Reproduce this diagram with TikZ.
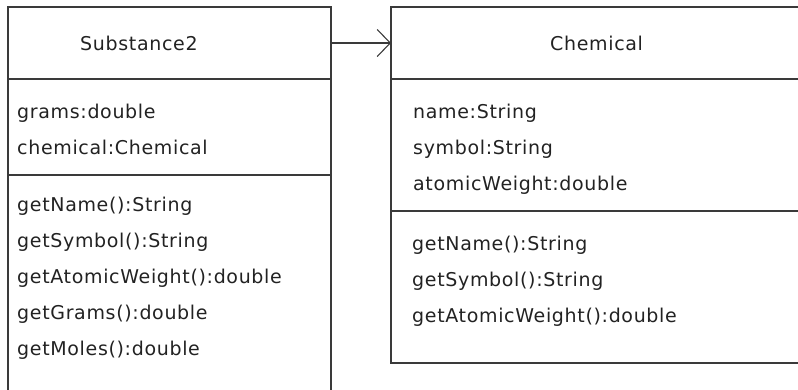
\documentclass[tikz,border=0pt]{standalone}
\usepackage{fontspec}
\setmainfont{DejaVu Sans}[LetterSpace=3.5]
\usepackage{tikz}
\usetikzlibrary{positioning,arrows.meta}
\definecolor{LineGray}{HTML}{3A3A3A}
\definecolor{TextGray}{HTML}{222222}

\begin{document}
\begin{tikzpicture}[
  x=1pt,y=-1pt,
  part/.style={draw=LineGray,line width=1.3pt,inner sep=0pt,outer sep=0pt},
  lbl/.style={anchor=base west,inner sep=0pt,text=TextGray,font=\fontsize{19}{23}\selectfont},
  arr/.style={-{Straight Barb[length=13pt,width=27pt]},line width=1.1pt,draw=LineGray}
]
\useasboundingbox (0,0) rectangle (798,389);
\clip (0,0) rectangle (798,389);
% class Substance2
\node[part,minimum width=323pt,minimum height=72pt] (subHead) at (169.5,43) {};
\node[part,minimum width=323pt,minimum height=96pt,below=0pt of subHead] (subAttr) {};
\node[part,minimum width=323pt,minimum height=225pt,below=0pt of subAttr] (subOps) {};
% class Chemical
\node[part,minimum width=410pt,minimum height=72pt,right=60pt of subHead] (chemHead) {};
\node[part,minimum width=410pt,minimum height=132pt,below=0pt of chemHead] (chemAttr) {};
\node[part,minimum width=410pt,minimum height=152pt,below=0pt of chemAttr] (chemOps) {};
% texts
\node[lbl] (subName) at (80,50) {Substance2};
\node[lbl] (subA1) at (17,118) {grams:double};
\node[lbl] (subA2) at (17,154) {chemical:Chemical};
\node[lbl] (subM1) at (17,211) {getName():String};
\node[lbl] (subM2) at (17,247) {getSymbol():String};
\node[lbl] (subM3) at (17,283) {getAtomicWeight():double};
\node[lbl] (subM4) at (17,319) {getGrams():double};
\node[lbl] (subM5) at (17,355) {getMoles():double};
\node[lbl] (chemName) at (550,50) {Chemical};
\node[lbl] (chemA1) at (413,118) {name:String};
\node[lbl] (chemA2) at (413,154) {symbol:String};
\node[lbl] (chemA3) at (413,190) {atomicWeight:double};
\node[lbl] (chemM1) at (412,250) {getName():String};
\node[lbl] (chemM2) at (412,286) {getSymbol():String};
\node[lbl] (chemM3) at (412,322) {getAtomicWeight():double};
% association
\draw[arr] (subHead.east) -- (chemHead.west);
\end{tikzpicture}
\end{document}
